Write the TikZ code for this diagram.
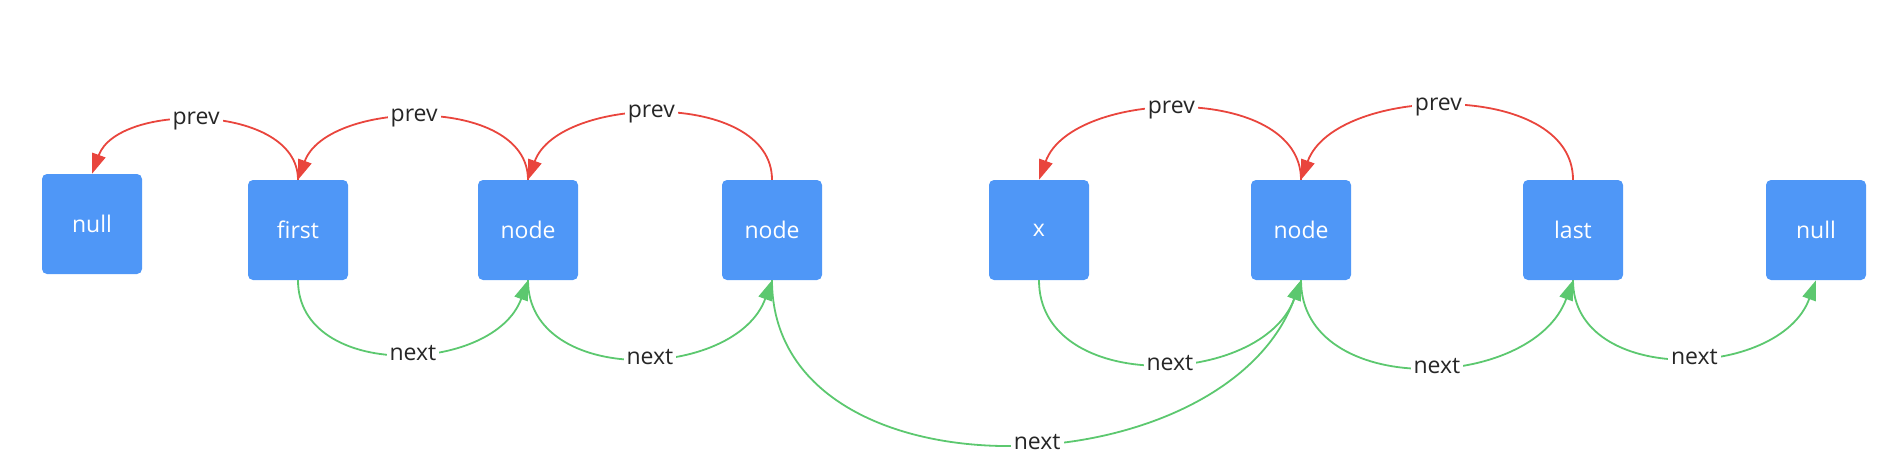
\documentclass[tikz,border=0pt]{standalone}
\usepackage{fontspec}
\setmainfont{Open Sans}
\usetikzlibrary{arrows.meta}
\definecolor{boxblue}{HTML}{4F97F7}
\definecolor{prevred}{HTML}{E9453D}
\definecolor{nextgreen}{HTML}{5CC86F}
\definecolor{labelgray}{HTML}{262626}
\begin{document}
\begin{tikzpicture}[x=1pt,y=1pt,
  box/.style={draw=none, fill=boxblue, rounded corners=5pt, minimum width=100pt, minimum height=100pt, inner sep=0pt, text=white, font=\fontsize{23}{27}\selectfont},
  lbl/.style={fill=white, text=labelgray, inner xsep=3pt, inner ysep=1pt, font=\fontsize{23}{27}\selectfont},
  prevarrow/.style={draw=prevred, line width=1.8pt, -{Triangle[length=20pt,width=14pt]}, looseness=0.95},
  nextarrow/.style={draw=nextgreen, line width=1.8pt, -{Triangle[length=20pt,width=14pt]}, looseness=1.12}]
\useasboundingbox (0,0) rectangle (1898,-476);
\node[box] (null1) at (92,-224) {null};
\node[box] (first) at (298,-230) {first};
\node[box] (node1) at (528,-230) {node};
\node[box] (node2) at (772,-230) {node};
\node[box] (x) at (1039,-230) {x};
\node[box] (node3) at (1301,-230) {node};
\node[box] (last) at (1573,-230) {last};
\node[box] (null2) at (1816,-230) {null};
% prev
\draw[prevarrow] (first.north) to[out=90,in=70] node[lbl,pos=0.53]{prev} (null1.north);
\draw[prevarrow] (node1.north) to[out=90,in=70] node[lbl,pos=0.53]{prev} (first.north);
\draw[prevarrow] (node2.north) to[out=90,in=70] node[lbl,pos=0.53]{prev} (node1.north);
\draw[prevarrow] (node3.north) to[out=90,in=70] node[lbl,pos=0.53]{prev} (x.north);
\draw[prevarrow] (last.north) to[out=90,in=70] node[lbl,pos=0.53]{prev} (node3.north);
% next
\draw[nextarrow] (first.south) to[out=270,in=250] node[lbl,pos=0.54]{next} (node1.south);
\draw[nextarrow] (node1.south) to[out=270,in=250] node[lbl,pos=0.54]{next} (node2.south);
\draw[nextarrow] (node2.south) to[out=270,in=250,looseness=1.09] node[lbl,pos=0.54]{next} (node3.south);
\draw[nextarrow] (x.south) to[out=270,in=250] node[lbl,pos=0.54]{next} (node3.south);
\draw[nextarrow] (node3.south) to[out=270,in=250] node[lbl,pos=0.54]{next} (last.south);
\draw[nextarrow] (last.south) to[out=270,in=250] node[lbl,pos=0.54]{next} (null2.south);
\end{tikzpicture}
\end{document}
